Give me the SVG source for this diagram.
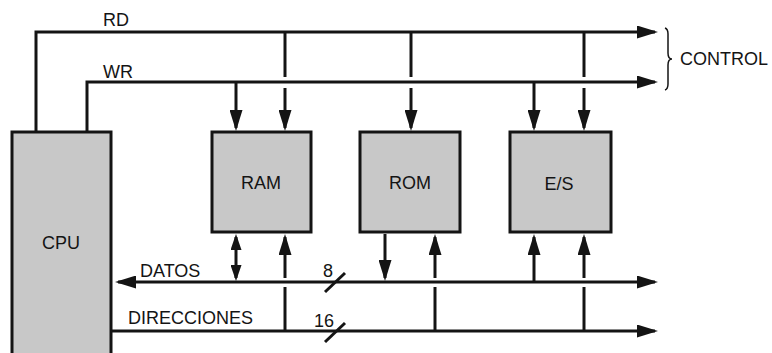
<svg xmlns="http://www.w3.org/2000/svg" width="772" height="353" viewBox="0 0 772 353">
<defs>
<style>
.box{fill:#c8c8c8;stroke:#141414;stroke-width:3}
.ln{fill:none;stroke:#141414;stroke-width:3}
.thin{fill:none;stroke:#141414;stroke-width:1.5}
.t{font-family:"Liberation Sans",Arial,sans-serif;font-size:18px;fill:#141414}
.c{text-anchor:middle}
</style>
<marker id="ah" markerUnits="userSpaceOnUse" markerWidth="21" markerHeight="13" viewBox="0 0 21 13" refX="18" refY="6.5" orient="auto-start-reverse">
<path d="M0,0 L21,6.5 L0,13 z" fill="#141414"/>
</marker>
<marker id="as" markerUnits="userSpaceOnUse" markerWidth="16" markerHeight="11" viewBox="0 0 16 11" refX="13" refY="5.5" orient="auto-start-reverse">
<path d="M0,0 L16,5.5 L0,11 z" fill="#141414"/>
</marker>
</defs>
<rect width="772" height="353" fill="#ffffff"/>

<g id="connectors">
<path class="ln" d="M36,132 V32 H655" marker-end="url(#ah)"/>
<path class="ln" d="M87,132 V82 H655" marker-end="url(#ah)"/>
<path class="ln" d="M236,82 V128" marker-end="url(#ah)"/>
<path class="ln" d="M285,32 V77"/>
<path class="ln" d="M285,88 V128" marker-end="url(#ah)"/>
<path class="ln" d="M411,32 V77"/>
<path class="ln" d="M411,88 V128" marker-end="url(#ah)"/>
<path class="ln" d="M534,82 V128" marker-end="url(#ah)"/>
<path class="ln" d="M584,32 V77"/>
<path class="ln" d="M584,88 V128" marker-end="url(#ah)"/>
<path class="ln" d="M118,282 H655" marker-start="url(#ah)" marker-end="url(#ah)"/>
<path class="ln" d="M111,331 H655" marker-end="url(#ah)"/>
<path class="ln" d="M236,237 V278" marker-start="url(#as)" marker-end="url(#as)"/>
<path class="ln" d="M285,331 V287"/>
<path class="ln" d="M285,278 V237" marker-end="url(#ah)"/>
<path class="ln" d="M385,234 V278" marker-end="url(#ah)"/>
<path class="ln" d="M435,331 V287"/>
<path class="ln" d="M435,278 V237" marker-end="url(#ah)"/>
<path class="ln" d="M534,282 V237" marker-end="url(#ah)"/>
<path class="ln" d="M584,331 V287"/>
<path class="ln" d="M584,278 V237" marker-end="url(#ah)"/>
<path class="ln" d="M325,292 L345,273"/>
<path class="ln" d="M325,342 L345,323"/>
<path class="thin" d="M665,28 Q668,29 668,34 V53 Q668,59 672,59 Q668,59 668,65 V84 Q668,89 665,90"/>
</g>

<g id="labels">
<text class="t" x="103" y="26">RD</text>
<text class="t" x="103" y="78">WR</text>
<text class="t" x="680" y="65">CONTROL</text>
<text class="t" x="140" y="277">DATOS</text>
<text class="t" x="128" y="324">DIRECCIONES</text>
<text class="t" x="323" y="277">8</text>
<text class="t" x="314" y="327">16</text>
</g>

<g id="cpu">
<rect class="box" x="12" y="132" width="99" height="240"/>
<text class="t c" x="61" y="249">CPU</text>
</g>
<g id="ram">
<rect class="box" x="212" y="132" width="99" height="100"/>
<text class="t c" x="261" y="189">RAM</text>
</g>
<g id="rom">
<rect class="box" x="360" y="132" width="100" height="100"/>
<text class="t c" x="410" y="189">ROM</text>
</g>
<g id="es">
<rect class="box" x="510" y="132" width="101" height="100"/>
<text class="t c" x="559" y="190">E/S</text>
</g>
</svg>
